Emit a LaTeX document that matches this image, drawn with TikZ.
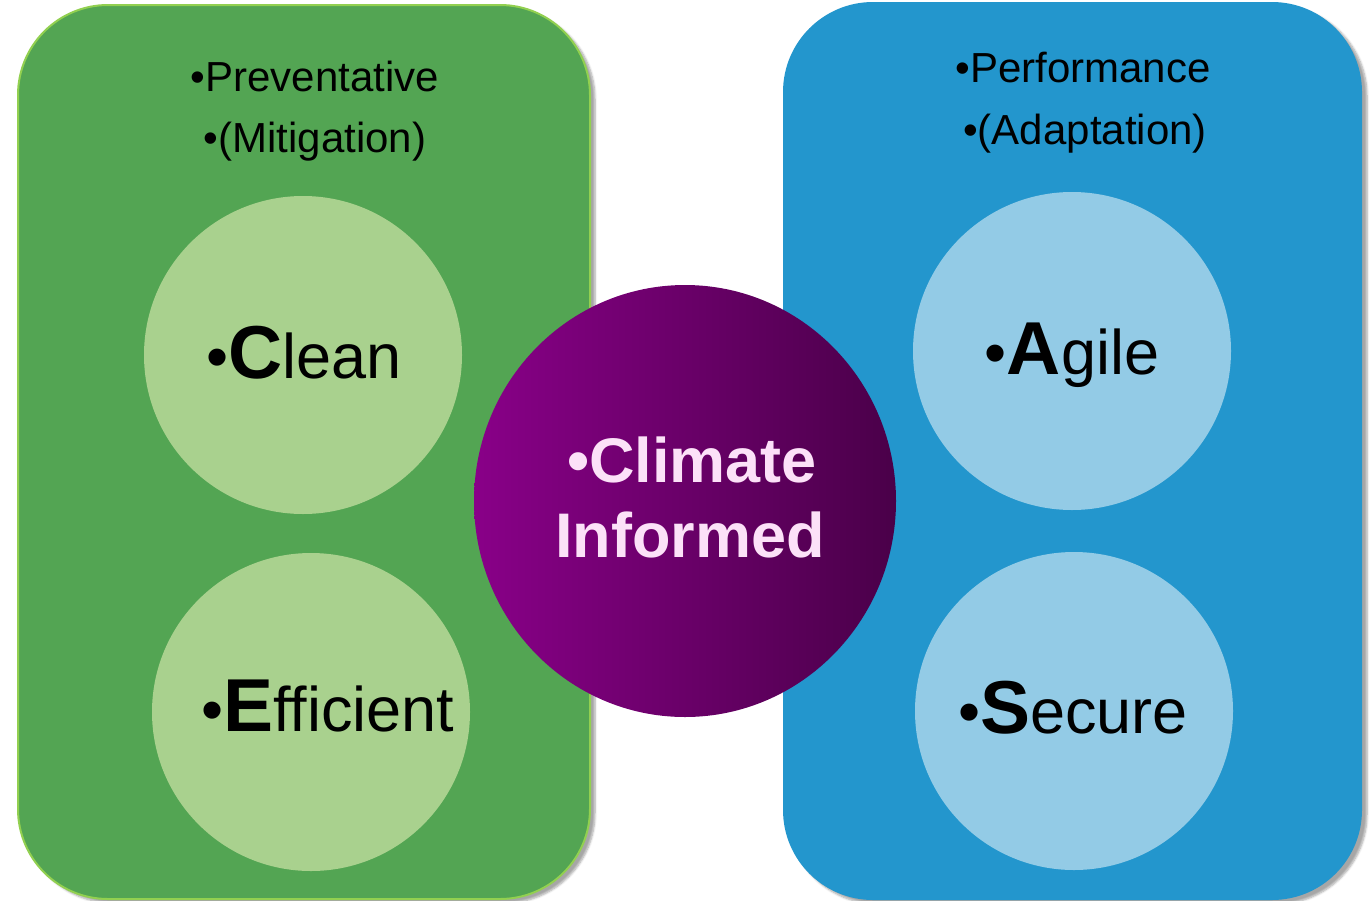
\documentclass[tikz,border=0pt]{standalone}
\usepackage{fontspec}
\setmainfont{Liberation Sans}
\usetikzlibrary{shapes.geometric,shadows.blur}
\definecolor{boxgreen}{HTML}{53A553}
\definecolor{edgegreen}{HTML}{92D050}
\definecolor{boxblue}{HTML}{2396CD}
\definecolor{dotgreen}{HTML}{A9D18E}
\definecolor{dotblue}{HTML}{93CBE6}
\definecolor{plumleft}{HTML}{890088}
\definecolor{plumright}{HTML}{4A0049}
\definecolor{pinktext}{HTML}{FCE1F8}
\newcommand{\bigfirst}[1]{{\bfseries\fontsize{75}{79}\selectfont #1}}
\tikzset{
  panel/.style={rectangle, rounded corners=90pt, inner sep=0pt,
    blur shadow={shadow xshift=5pt, shadow yshift=-4pt, shadow blur steps=6, shadow opacity=35}},
  bubble/.style={circle, minimum size=318pt, inner sep=0pt},
  header/.style={font=\fontsize{42}{49}\selectfont, anchor=base},
  word/.style={font=\fontsize{63}{79}\selectfont, anchor=base},
  centreword/.style={anchor=base, text=pinktext, font=\bfseries\fontsize{63}{75}\selectfont},
}

\begin{document}
\begin{tikzpicture}[x=1pt,y=-1pt]
    \useasboundingbox (0,0) rectangle (1370,900);
    \begin{scope}
        \clip (0,0) rectangle (1370,900);
        % the two panels
        \node[panel, fill=boxgreen, draw=edgegreen, line width=2pt,
              minimum width=572pt, minimum height=894pt] (mitigation) at (304,452) {};
        \node[panel, fill=boxblue,
              minimum width=579pt, minimum height=898pt] (adaptation) at (1072.5,451) {};
    \end{scope}
    \node[header] (prev) at (315,91) {•Preventative};
    \node[header] (miti) at (315,152) {•(Mitigation)};
    \node[header] (perf) at (1083,82) {•Performance};
    \node[header] (adap) at (1085,144) {•(Adaptation)};
    % circles
    \node[bubble, fill=dotgreen] (clean) at (303,355) {};
    \node[bubble, fill=dotgreen] (efficient) at (311,712) {};
    \node[bubble, fill=dotblue] (agile) at (1072,351) {};
    \node[bubble, fill=dotblue] (secure) at (1074,711) {};
    \node[word] (cleanlbl) at (304,378) {•\bigfirst{C}lean};
    \node[word] (efficientlbl) at (328,731) {•\bigfirst{E}fficient};
    \node[word] (agilelbl) at (1072,374) {•\bigfirst{A}gile};
    \node[word] (securelbl) at (1073,733) {•\bigfirst{S}ecure};
    % centre
    \node[ellipse, minimum width=422pt, minimum height=432pt, inner sep=0pt,
          left color=plumleft, right color=plumright] (informed) at (685,501) {};
    \node[centreword] (climtop) at (692,482) {•Climate};
    \node[centreword] (climbot) at (690,557) {Informed};
\end{tikzpicture}
\end{document}
